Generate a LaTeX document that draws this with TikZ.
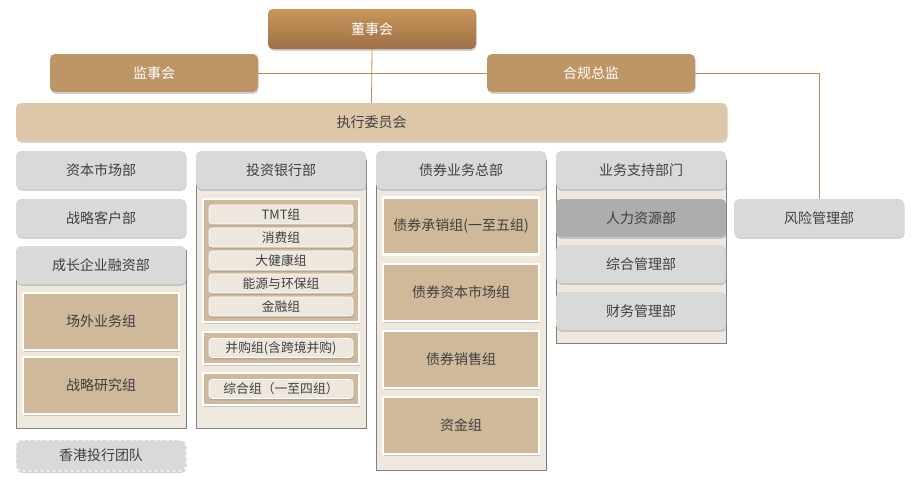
\documentclass[tikz,border=0pt]{standalone}
\usepackage{fontspec}
\setmainfont{Noto Sans CJK SC}
\usetikzlibrary{shadows}
\definecolor{board top}{HTML}{C8955A}
\definecolor{board bottom}{HTML}{9E7048}
\definecolor{lead fill}{HTML}{BE9567}
\definecolor{exec fill}{HTML}{DEC6A8}
\definecolor{dept fill}{HTML}{D9D9D9}
\definecolor{hr fill}{HTML}{ADADAD}
\definecolor{pane fill}{HTML}{EFE8DF}
\definecolor{group fill}{HTML}{D0B89B}
\definecolor{team fill}{HTML}{EEE7DE}
\definecolor{text dark}{HTML}{404040}
\definecolor{link edge}{HTML}{C08B52}
\colorlet{pane edge}{black!50}
\tikzset{unit/.style={rectangle, rounded corners=5pt, minimum width=170pt, minimum height=38pt,
		inner sep=0pt, text=text dark, font=\fontsize{14}{16}\selectfont},
	soft/.style={drop shadow={shadow xshift=0.6pt, shadow yshift=-1.8pt, opacity=0.35}},
	lead/.style={unit, soft, minimum width=208pt, fill=lead fill, text=white},
	dept/.style={unit, soft, fill=dept fill},
	pane/.style={fill=pane fill, draw=pane edge, line width=0.8pt},
	group/.style={rectangle, fill=group fill, draw=white, line width=2.5pt, soft,
		minimum width=156pt, minimum height=57pt, text=text dark, font=\fontsize{14}{16}\selectfont},
	team/.style={rectangle, rounded corners=3pt, fill=team fill, draw=white, line width=0.6pt, soft,
		minimum width=144pt, minimum height=19pt, inner sep=0pt, text=text dark, font=\fontsize{12.8}{14}\selectfont},
	link/.style={draw=link edge, line width=0.8pt}}

\begin{document}
\begin{tikzpicture}[x=1pt, y=-1pt]
		\useasboundingbox (0,0) rectangle (919,501);
		% top level
		\node[lead, top color=board top, bottom color=board bottom, minimum height=40pt] (board) at (372,29) {董事会};
		\node[lead] (supervisors) at (154,73) {监事会};
		\node[lead] (compliance) at (591,73) {合规总监};
		\node[unit, soft, fill=exec fill, minimum width=711pt] (exec) at (371.5,122) {执行委员会};
		\node[dept] (risk) at (819,218) {风险管理部};
		\draw[link] (supervisors.east) -- (compliance.west);
		\draw[link] (board.south) -- (exec.north);
		\draw[link] (compliance.east) -| (risk.north);
		
		% capital markets column
		\node[dept] (capital) at (101,170) {资本市场部};
		\node[dept] (strategic) at (101,218) {战略客户部};
		\draw[pane] (16,250) rectangle (186,428);
		\node[dept] (growth) at (101,265) {成长企业融资部};
		\node[group] (otc) at (101,321.5) {场外业务组};
		\node[group] (research) at (101,385.5) {战略研究组};
		\node[unit, soft, fill=dept fill, draw=white, dashed, line width=1.2pt, minimum height=31pt] (hk) at (101,455.5) {香港投行团队};
		
		% investment banking column
		\draw[pane] (196,160) rectangle (366,428);
		\node[dept] (ib) at (281,170) {投资银行部};
		\node[group, minimum height=123pt] (sectors) at (281,260.5) {};
		\foreach \name/\ty/\label in {tmt/214.5/TMT组, consumer/237.5/消费组, health/260.5/大健康组,
			energy/283.5/能源与环保组, finance/306.5/金融组}
		\node[team] (\name) at (281,\ty) {\label};
		\node[group, minimum height=32pt] (mna box) at (281,348) {};
		\node[team] (mna) at (281,348) {并购组(含跨境并购)};
		\node[group, minimum height=32pt] (general box) at (281,389) {};
		\node[team] (general) at (281,389) {综合组（一至四组）};
		
		% bond column
		\draw[pane] (376,160) rectangle (546,470);
		\node[dept] (bond) at (461,170) {债券业务总部};
		\node[group] (underwriting) at (461,226) {债券承销组(一至五组)};
		\node[group] (dcm) at (461,292.5) {债券资本市场组};
		\node[group] (sales) at (461,359.5) {债券销售组};
		\node[group] (treasury) at (461,425.5) {资金组};
		
		% support column
		\draw[pane] (556,160) rectangle (726,343);
		\node[dept] (support) at (641,170) {业务支持部门};
		\node[dept, fill=hr fill] (hr) at (641,218) {人力资源部};
		\node[dept] (admin) at (641,264) {综合管理部};
		\node[dept] (accounts) at (641,311) {财务管理部};
		\end{tikzpicture}
\end{document}
